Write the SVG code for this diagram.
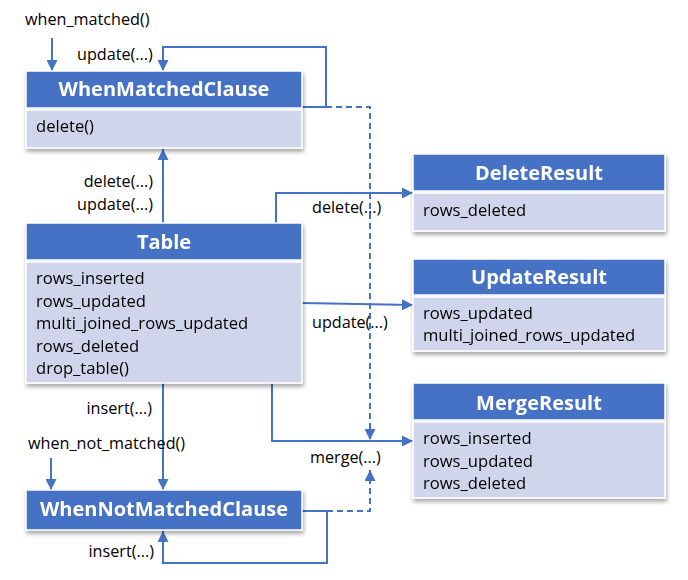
<svg xmlns="http://www.w3.org/2000/svg" width="688" height="580" viewBox="0 0 688 580">
<defs>
<filter id="sh" x="-10%" y="-20%" width="130%" height="150%">
<feDropShadow dx="1" dy="3" stdDeviation="2" flood-color="#000" flood-opacity="0.35"/>
</filter>
<marker id="ah" viewBox="0 0 10 10" refX="10" refY="5" markerWidth="11" markerHeight="11" markerUnits="userSpaceOnUse" orient="auto">
<path d="M0,0 L10,5 L0,10 Z" fill="#4472C4"/>
</marker>
</defs>
<style>
.hd{fill:#4472C4;stroke:#fff;stroke-width:1.5}
.bd{fill:#CFD5EA;stroke:#fff;stroke-width:1.5}
.tt{font-family:"Open Sans","Liberation Sans",sans-serif;font-size:20px;font-weight:bold;fill:#fff;text-anchor:middle}
.tx{font-family:"Open Sans","Liberation Sans",sans-serif;font-size:16.6px;fill:#000}
.lb{font-family:"Open Sans","Liberation Sans",sans-serif;font-size:16.2px;fill:#000}
.r{text-anchor:end}
.ln{fill:none;stroke:#4472C4;stroke-width:2}
.ds{stroke-dasharray:6,4}
</style>
<rect width="688" height="580" fill="#fff"/>
<g id="connectors">
<path class="ln" d="M52,38 V71" marker-end="url(#ah)"/>
<path class="ln" d="M302,107 H326 V47 H163 V71" marker-end="url(#ah)"/>
<path class="ln ds" d="M326,107 H370 V440" marker-end="url(#ah)"/>
<path class="ln" d="M163,223 V149" marker-end="url(#ah)"/>
<path class="ln" d="M276,223 V193 H413" marker-end="url(#ah)"/>
<path class="ln" d="M302,303 L413,305" marker-end="url(#ah)"/>
<path class="ln" d="M272,383 V441 H413" marker-end="url(#ah)"/>
<path class="ln" d="M163,383 V490" marker-end="url(#ah)"/>
<path class="ln" d="M51,458 V490" marker-end="url(#ah)"/>
<path class="ln" d="M302,511 H327 V563 H163 V531" marker-end="url(#ah)"/>
<path class="ln ds" d="M327,511 H370 V470" marker-end="url(#ah)"/>
<text class="lb" x="25" y="25">when_matched()</text>
<text class="lb" x="77" y="60">update(...)</text>
<text class="lb r" x="153" y="187">delete(...)</text>
<text class="lb r" x="153" y="210">update(...)</text>
<text class="lb" x="312" y="213">delete(...)</text>
<text class="lb" x="312" y="328">update(...)</text>
<text class="lb r" x="152" y="414">insert(...)</text>
<text class="lb" x="28" y="449">when_not_matched()</text>
<text class="lb" x="310" y="463">merge(...)</text>
<text class="lb r" x="154" y="557">insert(...)</text>
</g>
<g id="WhenMatchedClause" filter="url(#sh)">
<rect class="hd" x="26" y="71" width="276" height="37"/>
<rect class="bd" x="26" y="110" width="276" height="38"/>
<text class="tt" x="164" y="96">WhenMatchedClause</text>
<text class="tx" x="36" y="132">delete()</text>
</g>
<g id="Table" filter="url(#sh)">
<rect class="hd" x="26" y="223" width="276" height="37"/>
<rect class="bd" x="26" y="262" width="276" height="121"/>
<text class="tt" x="164" y="249">Table</text>
<text class="tx" x="36" y="284">rows_inserted</text>
<text class="tx" x="36" y="307">rows_updated</text>
<text class="tx" x="36" y="329">multi_joined_rows_updated</text>
<text class="tx" x="36" y="352">rows_deleted</text>
<text class="tx" x="36" y="374">drop_table()</text>
</g>
<g id="DeleteResult" filter="url(#sh)">
<rect class="hd" x="413" y="154" width="252" height="37"/>
<rect class="bd" x="413" y="193" width="252" height="38"/>
<text class="tt" x="539" y="180">DeleteResult</text>
<text class="tx" x="423" y="216">rows_deleted</text>
</g>
<g id="UpdateResult" filter="url(#sh)">
<rect class="hd" x="413" y="259" width="252" height="36"/>
<rect class="bd" x="413" y="297" width="252" height="54"/>
<text class="tt" x="539" y="284">UpdateResult</text>
<text class="tx" x="423" y="319">rows_updated</text>
<text class="tx" x="423" y="341">multi_joined_rows_updated</text>
</g>
<g id="MergeResult" filter="url(#sh)">
<rect class="hd" x="413" y="383" width="252" height="37"/>
<rect class="bd" x="413" y="422" width="252" height="76"/>
<text class="tt" x="539" y="410">MergeResult</text>
<text class="tx" x="423" y="444">rows_inserted</text>
<text class="tx" x="423" y="467">rows_updated</text>
<text class="tx" x="423" y="489">rows_deleted</text>
</g>
<g id="WhenNotMatchedClause" filter="url(#sh)">
<rect class="hd" x="26" y="490" width="276" height="40"/>
<text class="tt" x="164" y="516">WhenNotMatchedClause</text>
</g>
</svg>
